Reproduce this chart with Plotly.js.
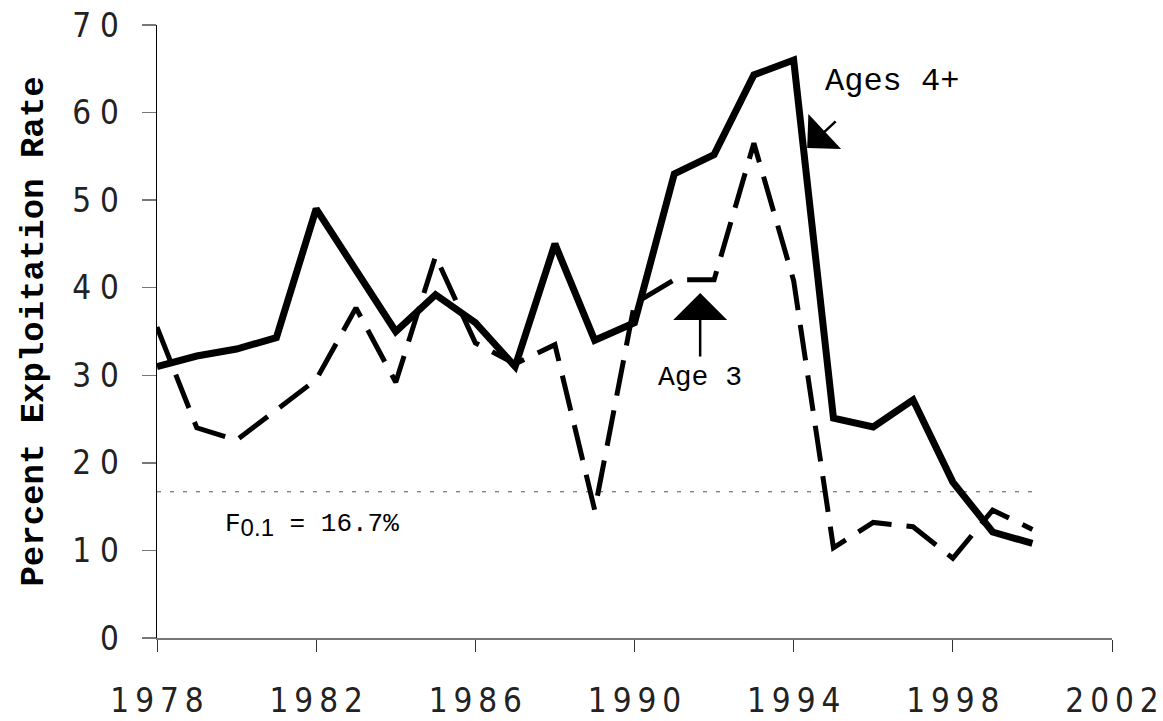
<!DOCTYPE html>
<html><head><meta charset="utf-8">
<script src="https://cdn.plot.ly/plotly-3.0.1.min.js"></script>
<style>html,body{margin:0;padding:0;background:#fff;}#chart{width:1163px;height:721px;}</style>
</head><body><div id="chart"></div>
<script>
const years = [1978,1979,1980,1981,1982,1983,1984,1985,1986,1987,1988,1989,1990,1991,1992,1993,1994,1995,1996,1997,1998,1999,2000];
const ages4plus = [31,32.2,33,34.3,49,42,35,39.2,36,31,45,34,36,53,55.2,64.3,66,25.1,24.1,27.2,17.8,12.1,10.8];
const age3 = [35.5,24,22.6,26,29.5,37.7,29.2,43.6,33.7,31.3,33.5,14.6,38.2,40.9,40.9,56.5,40.8,10.3,13.2,12.7,9.1,14.6,12.4];
const f01 = 16.7;
const f01Span = [1978, 2000];
const xTicks = [1978,1982,1986,1990,1994,1998,2002];
const yTicks = [0,10,20,30,40,50,60,70];
const spacedX = s => String(s).split('').join('\u2009');
const spacedY = s => String(s).split('').join('\u2009\u200A');

const traces = [
  {x: f01Span, y: [f01, f01], mode:'lines', line:{color:'#555', width:1, dash:'4px,9px'}, hoverinfo:'skip', showlegend:false},
  {x: years, y: age3, mode:'lines', name:'Age 3', line:{color:'#000', width:5, dash:'36px,15px'}, showlegend:false},
  {x: years, y: ages4plus, mode:'lines', name:'Ages 4+', line:{color:'#000', width:7}, showlegend:false}
];

const tickFont = {family:'"DejaVu Sans Condensed","Liberation Sans Narrow",sans-serif', size:33, color:'#222'};
const monoFont = {family:'"Liberation Mono","DejaVu Sans Mono",monospace', color:'#000'};

const layout = {
  width:1163, height:721,
  margin:{l:157, r:51, t:25, b:83},
  paper_bgcolor:'#fff', plot_bgcolor:'#fff',
  xaxis:{range:[1978,2002], tickvals:xTicks, ticktext:xTicks.map(spacedX), tickfont:tickFont,
         showgrid:false, zeroline:false, showline:true, linecolor:'#777', linewidth:2,
         ticks:'outside', ticklen:12, tickcolor:'#333', tickwidth:1, ticklabelstandoff:20,
         ticklabeloverflow:'allow'},
  yaxis:{range:[0,70], tickvals:yTicks, ticktext:yTicks.map(spacedY), tickfont:tickFont,
         showgrid:false, zeroline:false, showline:true, linecolor:'#000', linewidth:1.5,
         ticks:'outside', ticklen:14, tickcolor:'#777', tickwidth:1.5, ticklabelstandoff:16,
         title:{text:'Percent Exploitation Rate', font:Object.assign({}, monoFont, {size:34, weight:'bold'}), standoff:18}},
  annotations:[
    {x:1996.47, y:63.5, xref:'x', yref:'y', text:'Ages 4+', showarrow:false, font:Object.assign({}, monoFont, {size:32})},
    {x:1994.34, y:55.96, xref:'x', yref:'y', text:'', showarrow:true, ax:30, ay:-28, arrowhead:1, arrowsize:3.2, arrowwidth:2.5, arrowcolor:'#000'},
    {x:1991.65, y:29.7, xref:'x', yref:'y', text:'Age 3', showarrow:false, font:Object.assign({}, monoFont, {size:28})},
    {x:1991.65, y:39.4, xref:'x', yref:'y', text:'', showarrow:true, ax:0, ay:65, arrowhead:1, arrowsize:3.6, arrowwidth:2.5, arrowcolor:'#000'},
    {x:1981.9, y:12.9, xref:'x', yref:'y', text:'F<sub><span style="font-family:Liberation Sans,sans-serif;font-size:24px">0.1</span></sub> = 16.7%', showarrow:false, font:Object.assign({}, monoFont, {size:26})}
  ]
};
Plotly.newPlot('chart', traces, layout, {displayModeBar:false, staticPlot:true});
</script></body></html>
